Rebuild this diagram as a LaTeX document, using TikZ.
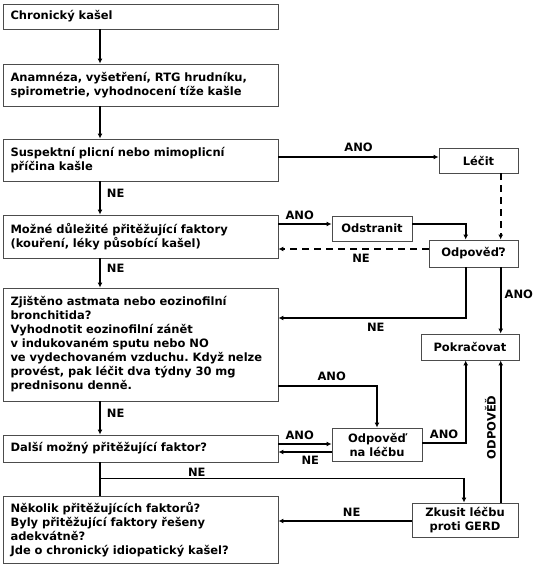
\documentclass[tikz,border=0pt]{standalone}
\usepackage{fontspec}
\setmainfont{DejaVu Sans}
\usetikzlibrary{arrows.meta}
\frenchspacing

\begin{document}
\begin{tikzpicture}[x=1pt, y=-1pt,
	every node/.style={font=\bfseries\fontsize{11.5}{14}\selectfont},
	box/.style={draw=black!70, line width=0.9pt, inner sep=0pt},
	leftbox/.style={box, text width=260pt, inner xsep=7.5pt, align=left},
	smallbox/.style={box, align=center},
	flow/.style={line width=1.8pt, -{Latex[length=5pt,width=5pt]}},
	link/.style={line width=1.8pt},
	dashline/.style={dash pattern=on 7pt off 5pt},
	lbl/.style={inner sep=1pt}]
	\useasboundingbox (0,0) rectangle (533,567);
	% left column
	\node[leftbox, minimum height=25pt] (chronic) at (140.5,16.5) {Chronický kašel};
	\node[leftbox, minimum height=42pt] (anamneza) at (140.5,85) {Anamnéza, vyšetření, RTG hrudníku,\\spirometrie, vyhodnocení tíže kašle};
	\node[leftbox, minimum height=42pt] (suspekt) at (140.5,160) {Suspektní plicní nebo mimoplicní\\příčina kašle};
	\node[leftbox, minimum height=43pt] (mozne) at (140.5,236.5) {Možné důležité přitěžující faktory\\(kouření, léky působící kašel)};
	\node[leftbox, minimum height=113pt] (zjisteno) at (140.5,344.5) {Zjištěno astmata nebo eozinofilní\\bronchitida?\\Vyhodnotit eozinofilní zánět\\v indukovaném sputu nebo NO\\ve vydechovaném vzduchu. Když nelze\\provést, pak léčit dva týdny 30 mg\\prednisonu denně.};
	\node[leftbox, minimum height=27pt] (dalsi) at (140.5,448.5) {Další možný přitěžující faktor?};
	\node[leftbox, minimum height=67pt] (nekolik) at (140.5,529.5) {Několik přitěžujících faktorů?\\Byly přitěžující faktory řešeny\\adekvátně?\\Jde o chronický idiopatický kašel?};
	% right column
	\node[smallbox, minimum width=79pt, minimum height=25pt] (lecit) at (478.5,160.5) {Léčit};
	\node[smallbox, minimum width=80pt, minimum height=25pt] (odstranit) at (372,228.5) {Odstranit};
	\node[smallbox, minimum width=89pt, minimum height=27pt] (odpoved) at (473.5,253.5) {Odpověď?};
	\node[smallbox, minimum width=98pt, minimum height=26pt] (pokracovat) at (470,347) {Pokračovat};
	\node[smallbox, minimum width=90pt, minimum height=33pt] (odplecbu) at (377,444.5) {Odpověď\\na léčbu};
	\node[smallbox, minimum width=106pt, minimum height=34pt] (gerd) at (465,520) {Zkusit léčbu\\proti GERD};
	\coordinate (spine) at (100,0);
	\coordinate (lline) at (465.7,0);
	\coordinate (rline) at (500.7,0);
	% main line
	\draw[flow] (chronic.south -| spine) -- (anamneza.north -| spine);
	\draw[flow] (anamneza.south -| spine) -- (suspekt.north -| spine);
	\draw[flow] (suspekt.south -| spine) -- node[lbl, right=5pt, pos=0.35] {NE} (mozne.north -| spine);
	\draw[flow] (mozne.south -| spine) -- node[lbl, right=5pt, pos=0.35] {NE} (zjisteno.north -| spine);
	\draw[flow] (zjisteno.south -| spine) -- node[lbl, right=5pt, pos=0.35] {NE} (dalsi.north -| spine);
	\draw[link] (dalsi.south -| spine) -- (nekolik.north -| spine);
	\draw[flow] (dalsi.south -| spine) ++(0,16) coordinate (b1) -| node[lbl, above, pos=0.133] {NE} ([xshift=-1pt]gerd.north);
	% ANO / NE branches
	\draw[flow] (suspekt.east) ++(0,-3) coordinate (s1) -- node[lbl, above=3pt] {ANO} (s1 -| lecit.west);
	\draw[flow] (mozne.east) ++(0,-12.5) coordinate (m1) -- node[lbl, above=2pt, pos=0.4] {ANO} (m1 -| odstranit.west);
	\draw[flow] (odstranit.east) ++(0,-4.5) coordinate (o1) -| (odpoved.north -| lline);
	\draw[flow, dashline] (lecit.south -| rline) -- (odpoved.north -| rline);
	\draw[flow, dashline] (odpoved.west) ++(0,-4.5) coordinate (d1) -- node[lbl, below=3pt, pos=0.45] {NE} (d1 -| mozne.east);
	\draw[flow] (odpoved.south -| lline) |- node[lbl, below=3pt, pos=0.74] {NE} ([yshift=26.5pt]zjisteno.east);
	\draw[flow] (odpoved.south -| rline) -- node[lbl, right=2pt, pos=0.4] {ANO} (pokracovat.north -| rline);
	\draw[flow] ([yshift=-41.5pt]zjisteno.east) -| node[lbl, above=3pt, pos=0.27] {ANO} (odplecbu.north);
	\draw[flow] (dalsi.east) ++(0,-4.5) coordinate (a1) -- node[lbl, above=2pt, pos=0.4] {ANO} (a1 -| odplecbu.west);
	\draw[flow] (odplecbu.west) ++(0,7.5) coordinate (n1) -- node[lbl, below=2pt, pos=0.4] {NE} (n1 -| dalsi.east);
	\draw[flow] (odplecbu.east) ++(0,-1.5) coordinate (p1) -| node[lbl, above=2pt, pos=0.25] {ANO} (pokracovat.south -| lline);
	\draw[flow] (gerd.north -| rline) -- node[lbl, rotate=90, anchor=south, pos=0.53, yshift=3pt] {ODPOVĚĎ} (pokracovat.south -| rline);
	\draw[flow] (gerd.west) ++(0,1) coordinate (g1) -- node[lbl, above=3pt, pos=0.45] {NE} (g1 -| nekolik.east);
\end{tikzpicture}
\end{document}
